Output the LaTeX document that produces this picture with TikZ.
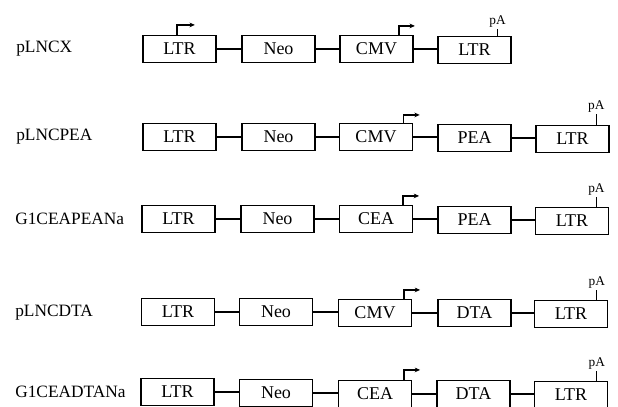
\documentclass[tikz,border=0pt]{standalone}
\usepackage{fontspec}
\setmainfont{Liberation Serif}
\usetikzlibrary{arrows.meta}
\begin{document}
\begin{tikzpicture}[x=0.75pt,y=-0.75pt,
  gene/.style={draw, line width=1.1pt, minimum width=54.5pt, minimum height=20pt, inner sep=0pt,
    font=\fontsize{13.5}{15}\selectfont},
  lab/.style={anchor=west, inner sep=0pt, font=\fontsize{13}{15}\selectfont},
  link/.style={line width=1pt},
  prom/.style={line width=1pt, -{Stealth[length=4pt,width=3.5pt]}},
  patext/.style={anchor=south, inner sep=1pt, font=\fontsize{10}{11}\selectfont}]
\useasboundingbox (0,0) rectangle (618,407);

% Row 1: pLNCX
\node[lab] (l1) at (16,49) {pLNCX};
\node[gene] (a1) at (179.5,49) {LTR};
\node[gene] (b1) at (278.5,49) {Neo};
\node[gene] (c1) at (376.5,49) {CMV};
\node[gene] (d1) at (474.5,50) {LTR};
\draw[link] (a1) -- (b1);
\draw[link] (b1) -- (c1);
\draw[link] (c1.east) -- (c1.east -| d1.west);
\coordinate (p1) at ([xshift=-2pt]a1.north);
\draw[prom] (p1) -- ++(0,-10) -- ++(18,0);
\coordinate (q1) at ([xshift=-11pt]c1.north east);
\draw[prom] (q1) -- ++(0,-9) -- ++(16,0);
\coordinate (t1) at ([xshift=-10.5pt]d1.north east);
\draw[link] (t1) -- ++(0,-7) coordinate (u1);
\node[patext] (pa1) at (u1) {pA};

% Row 2: pLNCPEA
\node[lab] (l2) at (16,137) {pLNCPEA};
\node[gene] (a2) at (179.5,137) {LTR};
\node[gene] (b2) at (278.5,137) {Neo};
\node[gene] (c2) at (376,137) {CMV};
\node[gene] (d2) at (474.5,138) {PEA};
\node[gene] (e2) at (572.5,139) {LTR};
\draw[link] (a2) -- (b2);
\draw[link] (b2) -- (c2);
\draw[link] (c2.east) -- (c2.east -| d2.west);
\draw[link] (d2.east) -- (d2.east -| e2.west);
\coordinate (q2) at ([xshift=-7pt]c2.north east);
\draw[prom] (q2) -- ++(0,-8) -- ++(16,0);
\coordinate (t2) at ([xshift=-10pt]e2.north east);
\draw[link] (t2) -- ++(0,-11) coordinate (u2);
\node[patext] (pa2) at (u2) {pA};

% Row 3: G1CEAPEANa
\node[lab] (l3) at (15,219) {G1CEAPEANa};
\node[gene] (a3) at (178.5,219) {LTR};
\node[gene] (b3) at (277.5,219) {Neo};
\node[gene] (c3) at (376,219) {CEA};
\node[gene] (d3) at (474.5,220) {PEA};
\node[gene] (e3) at (572,221) {LTR};
\draw[link] (a3) -- (b3);
\draw[link] (b3) -- (c3);
\draw[link] (c3.east) -- (c3.east -| d3.west);
\draw[link] (d3.east) -- (d3.east -| e3.west);
\coordinate (q3) at ([xshift=-7.5pt]c3.north east);
\draw[prom] (q3) -- ++(0,-9) -- ++(16,0);
\coordinate (t3) at ([xshift=-9.5pt]e3.north east);
\draw[link] (t3) -- ++(0,-10) coordinate (u3);
\node[patext] (pa3) at (u3) {pA};

% Row 4: pLNCDTA
\node[lab] (l4) at (15,313) {pLNCDTA};
\node[gene] (a4) at (178,312) {LTR};
\node[gene] (b4) at (276,312) {Neo};
\node[gene] (c4) at (375,313) {CMV};
\node[gene] (d4) at (474.5,313) {DTA};
\node[gene] (e4) at (571,314) {LTR};
\draw[link] (a4) -- (b4);
\draw[link] (b4.east) -- (b4.east -| c4.west);
\draw[link] (c4) -- (d4);
\draw[link] (d4.east) -- (d4.east -| e4.west);
\coordinate (q4) at ([xshift=-6pt]c4.north east);
\draw[prom] (q4) -- ++(0,-9) -- ++(16,0);
\coordinate (t4) at ([xshift=-8.5pt]e4.north east);
\draw[link] (t4) -- ++(0,-10) coordinate (u4);
\node[patext] (pa4) at (u4) {pA};

% Row 5: G1CEADTANa
\node[lab] (l5) at (15,392) {G1CEADTANa};
\node[gene] (a5) at (177.5,392) {LTR};
\node[gene] (b5) at (276,393) {Neo};
\node[gene] (c5) at (375,394) {CEA};
\node[gene] (d5) at (473.5,394) {DTA};
\node[gene] (e5) at (571,395) {LTR};
\draw[link] (a5.east) -- (a5.east -| b5.west);
\draw[link] (b5.east) -- (b5.east -| c5.west);
\draw[link] (c5) -- (d5);
\draw[link] (d5.east) -- (d5.east -| e5.west);
\coordinate (q5) at ([xshift=-6pt]c5.north east);
\draw[prom] (q5) -- ++(0,-10) -- ++(16,0);
\coordinate (t5) at ([xshift=-8.5pt]e5.north east);
\draw[link] (t5) -- ++(0,-10) coordinate (u5);
\node[patext] (pa5) at (u5) {pA};
\end{tikzpicture}
\end{document}
